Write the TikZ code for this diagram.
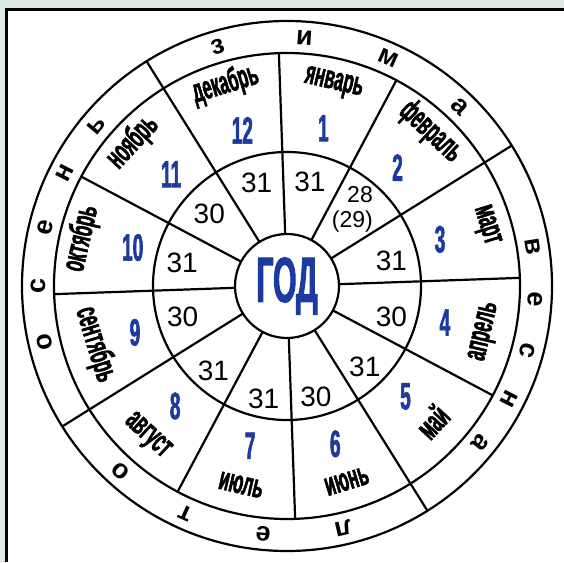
\documentclass[tikz,border=0pt]{standalone}
\usepackage{fontspec}
\setmainfont{Liberation Sans}
\newfontfamily\condfont[FakeStretch=0.5, BoldFeatures={FakeBold=1.5}]{Liberation Sans}
\newfontfamily\godfont[FakeStretch=0.47, BoldFeatures={FakeBold=1.5}]{Liberation Sans}
\usetikzlibrary{calc}
\definecolor{fondo}{RGB}{221,233,231}
\definecolor{azul}{RGB}{28,58,160}
\tikzset{
  linea/.style={line width=2.2pt},
  mes/.style={font=\condfont\bfseries\fontsize{33}{33}\selectfont, inner sep=0pt, text height=1.1ex, text depth=0pt},
  num/.style={font=\condfont\bfseries\fontsize{38}{38}\selectfont, text=azul, inner sep=0pt},
  dias/.style={font=\fontsize{28}{28}\selectfont, inner sep=0pt},
  letra/.style={font=\bfseries\fontsize{27}{27}\selectfont, inner sep=0pt}
}

\begin{document}
\begin{tikzpicture}[x=1pt,y=1pt]
    % Fondo y marco
    \fill[fondo] (0,0) rectangle (564,-562);
    \useasboundingbox (0,0) rectangle (564,-562);
    \fill[white] (6.3,-9.7) rectangle (564,-562);
    \draw[line width=2.8pt] (6.3,-562) -- (6.3,-9.7) -- (564,-9.7);

    % Centro de la rueda
    \coordinate (O) at (287,-286);

    \begin{scope}[shift={(O)}]
    % Circulos
    \draw[linea] (0,0) circle (265);
    \draw[linea] (0,0) circle (233);
    \draw[linea] (0,0) circle (134);

    % Radios de los meses
    \draw[linea] (2:233) -- (182:233);
    \draw[linea] (32:233) -- (212:233);
    \draw[linea] (62:233) -- (242:233);
    \draw[linea] (92:233) -- (272:233);
    \draw[linea] (122:233) -- (302:233);
    \draw[linea] (152:233) -- (332:233);

    % Separadores de las estaciones
    \draw[linea] (32:233) -- (32:265);
    \draw[linea] (122:233) -- (122:265);
    \draw[linea] (212:233) -- (212:265);
    \draw[linea] (302:233) -- (302:265);

    % Circulo central
    \node[circle, draw, linea, fill=white, minimum size=104pt, inner sep=0pt, text=azul,
          font=\godfont\bfseries\fontsize{64}{64}\selectfont] (god) at (0,0) {ГОД};

    % Nombres de los meses
    \node[mes, rotate=-13] (ene) at (77:205) {январь};
    \node[mes, rotate=-43] (feb) at (47:205) {февраль};
    \node[mes, rotate=-73] (mar) at (17:205) {март};
    \node[mes, rotate=77] (abr) at (-13:206) {апрель};
    \node[mes, rotate=47] (may) at (-43:208) {май};
    \node[mes, rotate=17] (jun) at (-73:210) {июнь};
    \node[mes, rotate=-13] (jul) at (-103:210) {июль};
    \node[mes, rotate=-43] (ago) at (-133:208) {август};
    \node[mes, rotate=-73] (sep) at (-163:206) {сентябрь};
    \node[mes, rotate=77] (oct) at (167:205) {октябрь};
    \node[mes, rotate=47] (nov) at (137:205) {ноябрь};
    \node[mes, rotate=17] (dic) at (107:205) {декабрь};

    % Numeros de los meses
    \node[num] (n1) at (77:162) {1};
    \node[num] (n2) at (47:162) {2};
    \node[num] (n3) at (17:160) {3};
    \node[num] (n4) at (-13:162) {4};
    \node[num] (n5) at (-43:162) {5};
    \node[num] (n6) at (-73:165) {6};
    \node[num] (n7) at (-103:164) {7};
    \node[num] (n8) at (-133:164) {8};
    \node[num] (n9) at (-163:159) {9};
    \node[num] (n10) at (166:159) {10};
    \node[num] (n11) at (136:161) {11};
    \node[num] (n12) at (106:162) {12};
    \end{scope}

    % Numero de dias
    \begin{scope}[shift={(287,-289)}]
    \node[dias] (d1) at (78:110) {31};
    \node[dias] (d3) at (15:108) {31};
    \node[dias] (d4) at (-15:108) {30};
    \node[dias] (d5) at (-45:110) {31};
    \node[dias] (d6) at (-75:112) {30};
    \node[dias] (d7) at (-102:112) {31};
    \node[dias] (d8) at (-132:110) {31};
    \node[dias] (d9) at (-165:108) {30};
    \node[dias] (d10) at (166:108) {31};
    \node[dias] (d11) at (136:108) {30};
    \node[dias] (d12) at (106:110) {31};
    \end{scope}
    \node[font=\fontsize{23}{25}\selectfont, inner sep=0pt, align=right, anchor=east] (d2) at (373,-209) {28\\(29)};

    % Letras de las estaciones
    \begin{scope}[shift={(O)}]
    \node[letra, rotate=16] (z1) at (106:249) {з};
    \node[letra, rotate=-4] (z2) at (86:249) {и};
    \node[letra, rotate=-24] (z3) at (66:249) {м};
    \node[letra, rotate=-44] (z4) at (46:249) {а};
    \node[letra, rotate=-81] (v1) at (9:249) {в};
    \node[letra, rotate=-93] (v2) at (-3:249) {е};
    \node[letra, rotate=-105] (v3) at (-15:249) {с};
    \node[letra, rotate=-117] (v4) at (-27:249) {н};
    \node[letra, rotate=-129] (v5) at (-39:249) {а};
    \node[letra, rotate=-167] (l1) at (-77:249) {л};
    \node[letra, rotate=-185.5] (l2) at (-95.5:249) {е};
    \node[letra, rotate=-204] (l3) at (-114:249) {т};
    \node[letra, rotate=-222] (l4) at (-132:249) {о};
    \node[letra, rotate=103] (o1) at (193:249) {о};
    \node[letra, rotate=90] (o2) at (180:249) {с};
    \node[letra, rotate=76.5] (o3) at (166.5:249) {е};
    \node[letra, rotate=63] (o4) at (153:249) {н};
    \node[letra, rotate=50] (o5) at (140:249) {ь};
    \end{scope}
\end{tikzpicture}
\end{document}
